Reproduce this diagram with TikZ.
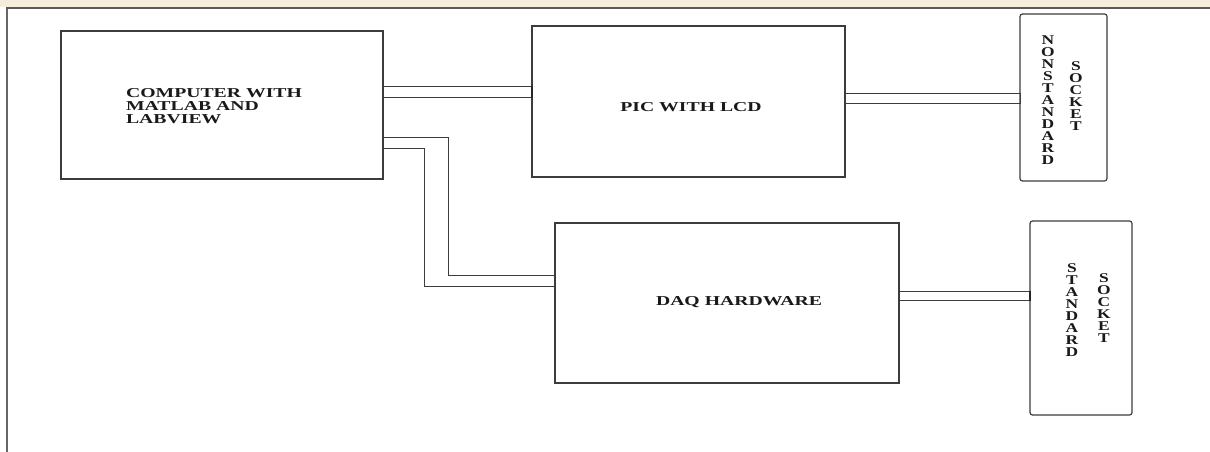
\documentclass[tikz,border=0pt]{standalone}
\usepackage{fontspec}
\setmainfont{Liberation Serif}
\newfontfamily\widebf[FakeStretch=1.45,UprightFont={* Bold}]{Liberation Serif}
\newfontfamily\letbf[FakeStretch=1.3,UprightFont={* Bold}]{Liberation Serif}
\definecolor{band}{RGB}{246,236,222}
\definecolor{ln}{RGB}{60,60,60}
\begin{document}
\begin{tikzpicture}[x=1pt,y=-1pt,
  box/.style={draw=ln,line width=1.2pt,inner sep=0pt,outer sep=0pt,rectangle},
  sock/.style={box,rounded corners=2.5pt},
  lbl/.style={inner sep=0pt,font=\widebf\fontsize{13.6}{13.2}\selectfont,text=black!90},
  vlet/.style={inner sep=0pt,align=center,font=\letbf\fontsize{13.4}{12}\selectfont,text=black!90},
  wire/.style={draw=ln,line width=1pt},
  endbar/.style={draw=black!85,line width=2.2pt}]
\useasboundingbox (0,0) rectangle (1210,452);
\fill[band] (0,0) rectangle (1210,7);
% frame
\draw[draw=black!60,line width=2pt] (7,452) -- (7,8);
\draw[draw=black!65,line width=1.3pt] (6,8) -- (1210,8);
% boxes
\node[box,minimum width=322,minimum height=148] (comp) at (222,105) {};
\node[box,minimum width=313,minimum height=151] (pic) at (688.5,101.5) {};
\node[sock,minimum width=87,minimum height=167] (nss) at (1063.5,97.5) {};
\node[box,minimum width=344,minimum height=160] (daq) at (727,303) {};
\node[sock,minimum width=102,minimum height=194] (ss) at (1081,318) {};
% texts
\node[lbl,align=left] (comptext) at (214,106) {COMPUTER WITH\\MATLAB AND\\LABVIEW};
\node[lbl] (pictext) at (691,107) {PIC WITH LCD};
\node[lbl] (daqtext) at (739,302) {DAQ HARDWARE};
\node[vlet] (nsst1) at (1048,100) {N\\O\\N\\S\\T\\A\\N\\D\\A\\R\\D};
\node[vlet] (nsst2) at (1076,96) {S\\O\\C\\K\\E\\T};
\node[vlet] (sst1) at (1072,310) {S\\T\\A\\N\\D\\A\\R\\D};
\node[vlet] (sst2) at (1104,308) {S\\O\\C\\K\\E\\T};
% connectors
\draw[wire] (comp.east |- 0,86) rectangle (pic.west |- 0,97);
\draw[endbar] (pic.west |- 0,85.5) -- (pic.west |- 0,97.5);
\draw[wire] (pic.east |- 0,93) rectangle (nss.west |- 0,103);
\draw[wire] (daq.east |- 0,291) rectangle (ss.west |- 0,300);
\draw[endbar] (ss.west |- 0,290.5) -- (ss.west |- 0,300.5);
\draw[wire] (comp.east |- 0,137) -- (448,137) -- (448,275) -- (daq.west |- 0,275);
\draw[wire] (comp.east |- 0,148) -- (424,148) -- (424,286) -- (daq.west |- 0,286);
\end{tikzpicture}
\end{document}
